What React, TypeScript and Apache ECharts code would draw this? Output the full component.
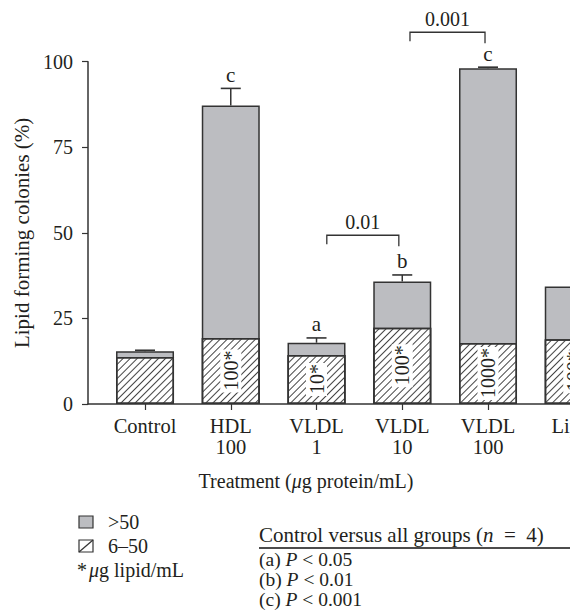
import React, { useEffect, useRef } from 'react';
import * as echarts from 'echarts';

const categories = ['Control', 'HDL\n100', 'VLDL\n1', 'VLDL\n10', 'VLDL\n100', 'Lipid'];
const totalValues = [15.4, 87.2, 17.9, 35.8, 98.1, 34.3];
const hatchValues = [13.7, 19.3, 14.3, 22.3, 17.8, 18.9];
const errorTops: (number | null)[] = [15.7, 92.2, 19.3, 37.7, 98.4, null];
const sigLetters = ['', 'c', 'a', 'b', 'c', ''];
const lipidDoses = ['', '100', '10', '100', '1000', '100'];
const comparisonLabels = ['0.01', '0.001'];
const comparisonFrom = [2.12, 3.09];
const comparisonTo = [2.96, 3.965];
const comparisonLevel = [49.3, 108.6];
const yTicks = [0, 25, 50, 75, 100];
const categoryIndex = [0, 1, 2, 3, 4, 5];

const FONT = "'Liberation Serif', 'Times New Roman', serif";
const INK = '#231f20';
const LINE = '#333333';

export default function App() {
  const ref = useRef<HTMLDivElement>(null);
  useEffect(() => {
    if (!ref.current) return;
    const chart = echarts.init(ref.current, null, { renderer: 'svg' });
    const txt = (text: string, x: number, y: number, size = 20, extra: any = {}) => ({
      type: 'text',
      x,
      y,
      style: {
        text,
        fontFamily: FONT,
        fontSize: size,
        fill: INK,
        verticalAlign: 'middle',
        rich: {
          i: { fontStyle: 'italic', fontFamily: FONT, fontSize: size, fill: INK },
          s: { fontFamily: FONT, fontSize: size, fill: INK, padding: [0, 2, 0, 0] },
        },
        ...extra,
      },
    });
    const option: any = {
      animation: false,
      backgroundColor: '#fff',
      grid: { left: 88, top: 61.7, width: 605.8, height: 342.3, containLabel: false },
      xAxis: {
        type: 'value',
        min: -0.665,
        max: 6.4,
        axisLine: { show: true, onZero: false, lineStyle: { color: LINE, width: 1.5 } },
        axisTick: {
          show: true,
          length: 6,
          lineStyle: { color: LINE, width: 1.2 },
          customValues: categoryIndex,
        },
        axisLabel: {
          customValues: categoryIndex,
          formatter: (v: number) => categories[Math.round(v)] ?? '',
          fontFamily: FONT,
          fontSize: 20.5,
          lineHeight: 20.5,
          color: INK,
          margin: 12,
        },
        splitLine: { show: false },
      },
      yAxis: {
        type: 'value',
        min: 0,
        max: 100,
        interval: 25,
        name: 'Lipid forming colonies (%)',
        nameLocation: 'middle',
        nameGap: 56,
        nameTextStyle: { fontFamily: FONT, fontSize: 21, color: INK },
        axisLine: { show: true, onZero: false, lineStyle: { color: LINE, width: 1.5 } },
        axisTick: { show: true, length: 6, lineStyle: { color: LINE, width: 1.2 }, customValues: yTicks },
        axisLabel: { fontFamily: FONT, fontSize: 20, color: INK, margin: 15, customValues: yTicks },
        splitLine: { show: false },
      },
      series: [
        {
          type: 'bar',
          name: '>50',
          barWidth: 58,
          barGap: '-100%',
          data: totalValues.map((v, i) => [i, v]),
          itemStyle: { color: '#bcbdc1', borderColor: LINE, borderWidth: 1.5 },
          z: 2,
        },
        {
          type: 'bar',
          name: '6–50',
          barWidth: 58,
          barGap: '-100%',
          data: hatchValues.map((v, i) => ({ value: [i, v], label: { show: !!lipidDoses[i] } })),
          itemStyle: {
            color: '#ffffff',
            borderColor: LINE,
            borderWidth: 1.5,
            decal: {
              symbol: 'rect',
              symbolSize: 1,
              dashArrayX: [1, 0],
              dashArrayY: [1, 3.5],
              rotation: -Math.PI / 4,
              color: '#444',
            },
          },
          label: {
            show: true,
            position: 'inside',
            rotate: 90,
            formatter: (p: any) => lipidDoses[p.dataIndex] + '*',
            backgroundColor: '#fff',
            padding: [1, 1, 0, 2],
            fontFamily: FONT,
            fontSize: 20,
            color: INK,
          },
          z: 3,
        },
        {
          type: 'custom',
          z: 4,
          data: categoryIndex.map((i) => [i, totalValues[i], errorTops[i] ?? totalValues[i]]),
          encode: { x: 0, y: [1, 2] },
          renderItem: (params: any, api: any) => {
            const i = params.dataIndex;
            if (errorTops[i] == null) return { type: 'group', children: [] };
            const x = api.value(0);
            const b = api.coord([x, api.value(1)]);
            const t = api.coord([x, api.value(2)]);
            const children: any[] = [
              { type: 'line', shape: { x1: b[0], y1: b[1], x2: t[0], y2: t[1] }, style: { stroke: LINE, lineWidth: 1.5 } },
              { type: 'line', shape: { x1: t[0] - 10, y1: t[1], x2: t[0] + 10, y2: t[1] }, style: { stroke: LINE, lineWidth: 1.6 } },
            ];
            if (sigLetters[i]) {
              children.push({
                type: 'text',
                x: t[0],
                y: t[1] - 3,
                style: { text: sigLetters[i], align: 'center', verticalAlign: 'bottom', fontFamily: FONT, fontSize: 21, fill: INK },
              });
            }
            return { type: 'group', children };
          },
        },
        {
          type: 'custom',
          z: 4,
          clip: false,
          data: comparisonLabels.map((_, k) => [comparisonFrom[k], comparisonTo[k], comparisonLevel[k]]),
          encode: { x: [0, 1], y: 2 },
          renderItem: (params: any, api: any) => {
            const k = params.dataIndex;
            const p1 = api.coord([api.value(0), api.value(2)]);
            const p2 = api.coord([api.value(1), api.value(2)]);
            return {
              type: 'group',
              children: [
                {
                  type: 'polyline',
                  shape: { points: [[p1[0], p1[1] + 9], [p1[0], p1[1]], [p2[0], p2[1]], [p2[0], p2[1] + 11]] },
                  style: { stroke: LINE, lineWidth: 1.3, fill: 'none' },
                },
                {
                  type: 'text',
                  x: (p1[0] + p2[0]) / 2,
                  y: p1[1] - 3,
                  style: { text: comparisonLabels[k], align: 'center', verticalAlign: 'bottom', fontFamily: FONT, fontSize: 20, fill: INK },
                },
              ],
            };
          },
        },
      ],
      graphic: [
        txt('Treatment ({i|μ}g protein/mL)', 306, 481, 20, { align: 'center' }),
        { type: 'rect', shape: { x: 79, y: 516, width: 14, height: 12 }, style: { fill: '#bcbdc1', stroke: LINE, lineWidth: 1.2 } },
        txt('>50', 108, 522),
        { type: 'rect', shape: { x: 79, y: 540, width: 14, height: 12 }, style: { fill: '#fff', stroke: LINE, lineWidth: 1.2 } },
        { type: 'line', shape: { x1: 79, y1: 552, x2: 93, y2: 540 }, style: { stroke: LINE, lineWidth: 1.2 } },
        txt('6–50', 108, 546),
        txt('{s|*}{i|μ}g lipid/mL', 77, 570),
        txt('Control versus all groups ({i|n}\u2002=\u20024)', 259, 535, 21),
        { type: 'line', shape: { x1: 259, y1: 548, x2: 570, y2: 548 }, style: { stroke: '#111', lineWidth: 1.3 } },
        txt('(a) {i|P} < 0.05', 259, 559, 19.5),
        txt('(b) {i|P} < 0.01', 259, 579, 19.5),
        txt('(c) {i|P} < 0.001', 259, 599, 19.5),
      ],
    };
    chart.setOption(option);
    return () => chart.dispose();
  }, []);
  return (
    <div style={{ position: 'fixed', left: 0, top: 0, width: 570, height: 611, overflow: 'hidden', background: '#fff' }}>
      <div ref={ref} style={{ width: 700, height: 611 }} />
    </div>
  );
}
